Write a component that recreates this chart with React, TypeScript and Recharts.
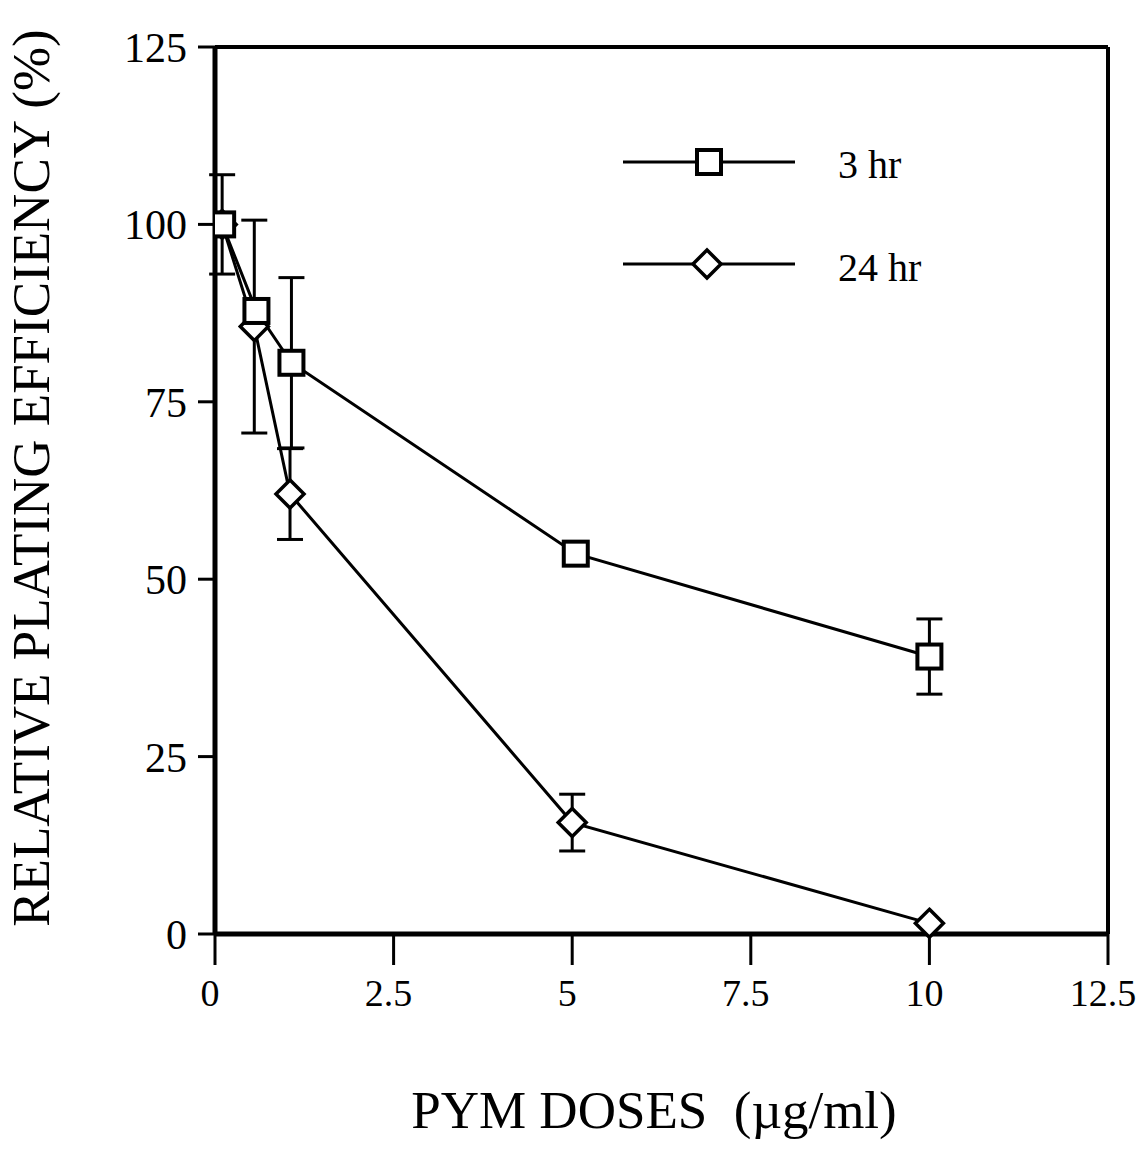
import {
  LineChart,
  Line,
  XAxis,
  YAxis,
  ErrorBar,
  ReferenceLine,
  Label,
} from 'recharts';

// doses (ug/ml) as placed on the plot
const dose3hr = [0.1, 0.58, 1.07, 5.05, 10];
const pe3hr = [100, 87.8, 80.5, 53.6, 39.1];
const err3hr = [7, 0, 12, 0, 5.3];

const dose24hr = [0.1, 0.55, 1.05, 5, 10];
const pe24hr = [100, 85.6, 62, 15.7, 1.5];
const err24hr = [0, 15, 6.4, 4, 0];

const xTicks = [0, 2.5, 5, 7.5, 10, 12.5];
const yTicks = [0, 25, 50, 75, 100, 125];

const seriesNames = ['3 hr', '24 hr'];

const data3 = dose3hr.map((x, i) => ({ x, y: pe3hr[i], err: err3hr[i] }));
const data24 = dose24hr.map((x, i) => ({ x, y: pe24hr[i], err: err24hr[i] }));

const FONT = '"Liberation Serif", "Times New Roman", serif';

const SquareDot = (props: any) => {
  const { cx, cy } = props;
  if (cx == null || cy == null) return null;
  return <rect x={cx - 12} y={cy - 12} width={24} height={24} fill="#fff" stroke="#000" strokeWidth={4} />;
};

const DiamondDot = (props: any) => {
  const { cx, cy } = props;
  if (cx == null || cy == null) return null;
  const r = 14;
  return (
    <polygon
      points={`${cx},${cy - r} ${cx + r},${cy} ${cx},${cy + r} ${cx - r},${cy}`}
      fill="#fff"
      stroke="#000"
      strokeWidth={3.5}
    />
  );
};

function LegendBox() {
  return (
    <svg width={340} height={185} style={{ position: 'absolute', left: 618, top: 126 }}>
      <line x1={5} y1={36} x2={177} y2={36} stroke="#000" strokeWidth={3} />
      <rect x={79} y={24} width={24} height={24} fill="#fff" stroke="#000" strokeWidth={4} />
      <text x={220} y={52} fontFamily={FONT} fontSize={40}>{seriesNames[0]}</text>
      <line x1={5} y1={138} x2={177} y2={138} stroke="#000" strokeWidth={3} />
      <polygon points="89,124 103,138 89,152 75,138" fill="#fff" stroke="#000" strokeWidth={3.5} />
      <text x={220} y={155} fontFamily={FONT} fontSize={40}>{seriesNames[1]}</text>
    </svg>
  );
}

export default function App() {
  return (
    <div style={{ position: 'relative', width: 1144, height: 1154, margin: -8 }}>
      <LineChart
        width={1144}
        height={1154}
        margin={{ top: 47, right: 36, bottom: 120, left: 115 }}
      >
        <XAxis
          type="number"
          dataKey="x"
          domain={[0, 12.5]}
          ticks={xTicks}
          allowDataOverflow
          height={100}
          tickSize={31}
          tickMargin={14}
          axisLine={{ stroke: '#000', strokeWidth: 5 }}
          tickLine={{ stroke: '#000', strokeWidth: 3 }}
          tick={{ fill: '#000', fontSize: 38, fontFamily: FONT, dx: -5 }}
        >
          <Label
            content={() => (
              <text x={654} y={1128} textAnchor="middle" fontFamily={FONT} fontSize={53} fill="#000">
                {'PYM DOSES \u00a0(\u00b5g/ml)'}
              </text>
            )}
          />
        </XAxis>
        <YAxis
          type="number"
          domain={[0, 125]}
          ticks={yTicks}
          width={100}
          tickSize={17}
          tickMargin={11}
          axisLine={{ stroke: '#000', strokeWidth: 5 }}
          tickLine={{ stroke: '#000', strokeWidth: 3 }}
          tick={{ fill: '#000', fontSize: 42, fontFamily: FONT }}
        >
          <Label
            content={() => (
              <text
                x={49}
                y={478}
                transform="rotate(-90 49 478)"
                textAnchor="middle"
                fontFamily={FONT}
                fontSize={53}
                fill="#000"
              >
                RELATIVE PLATING EFFICIENCY (%)
              </text>
            )}
          />
        </YAxis>
        <ReferenceLine x={12.5} stroke="#000" strokeWidth={4} />
        <ReferenceLine y={125} stroke="#000" strokeWidth={4} />
        <Line
          data={data24}
          dataKey="y"
          name={seriesNames[1]}
          stroke="#000"
          strokeWidth={3}
          dot={<DiamondDot />}
          activeDot={false}
          isAnimationActive={false}
        >
          <ErrorBar dataKey="err" direction="y" width={13} stroke="#000" strokeWidth={3} />
        </Line>
        <Line
          data={data3}
          dataKey="y"
          name={seriesNames[0]}
          stroke="#000"
          strokeWidth={3}
          dot={<SquareDot />}
          activeDot={false}
          isAnimationActive={false}
        >
          <ErrorBar dataKey="err" direction="y" width={13} stroke="#000" strokeWidth={3} />
        </Line>
      </LineChart>
      <LegendBox />
    </div>
  );
}
